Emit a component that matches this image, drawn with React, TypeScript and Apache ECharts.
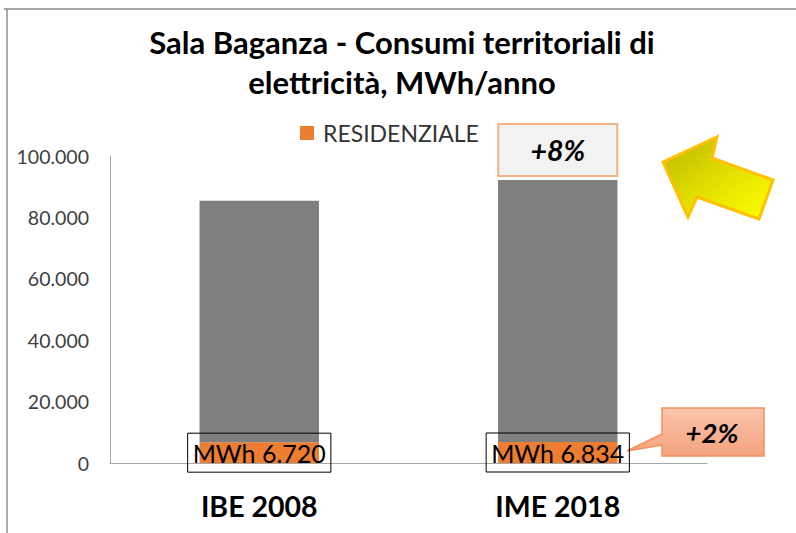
import React, { useEffect, useRef } from 'react';
import * as echarts from 'echarts';

const categories = ['IBE 2008', 'IME 2018'];
const residenziale = [6720, 6834];
const altriSettori = [78700, 85350];
const seriesNames = ['RESIDENZIALE', 'ALTRI SETTORI'];
const yMin = 0;
const yMax = 100000;
const yInterval = 20000;
const titleText = 'Sala Baganza - Consumi territoriali di\nelettricità, MWh/anno';

const fmt = (v: number) => String(Math.round(v)).replace(/\B(?=(\d{3})+(?!\d))/g, '.');

const FONT = 'Lato, "Open Sans", sans-serif';

export default function App() {
  const ref = useRef<HTMLDivElement>(null);

  useEffect(() => {
    if (!ref.current) return;
    const chart = echarts.init(ref.current, undefined, { renderer: 'svg' });

    const tot = residenziale.map((v, i) => v + altriSettori[i]);
    const pctTot = Math.round((tot[1] / tot[0] - 1) * 100);
    const pctRes = Math.round((residenziale[1] / residenziale[0] - 1) * 100);

    const option: any = {
      animation: false,
      backgroundColor: '#ffffff',
      legend: {
        data: [seriesNames[0]],
        left: 300,
        top: 121,
        padding: 0,
        itemWidth: 14,
        itemHeight: 14,
        icon: 'rect',
        textStyle: {
          fontFamily: FONT,
          fontSize: 23,
          lineHeight: 24,
          color: '#333333',
          padding: [0, 0, 0, 4],
        },
      },
      grid: { left: 110, right: 89, top: 156, bottom: 70, containLabel: false },
      xAxis: {
        type: 'category',
        data: categories,
        axisLine: { show: true, lineStyle: { color: '#a6a6a6', width: 1 } },
        axisTick: { show: false },
        axisLabel: {
          fontFamily: FONT,
          fontWeight: 'bold',
          fontSize: 28.5,
          color: '#000000',
          margin: 28,
        },
      },
      yAxis: {
        type: 'value',
        min: yMin,
        max: yMax,
        interval: yInterval,
        axisLine: { show: true, lineStyle: { color: '#a6a6a6', width: 1 } },
        axisTick: { show: false },
        splitLine: { show: false },
        axisLabel: {
          fontFamily: FONT,
          fontSize: 19.5,
          color: '#404040',
          margin: 21,
          formatter: (v: number) => fmt(v),
        },
      },
      series: [
        {
          name: seriesNames[0],
          type: 'bar',
          stack: 'tot',
          barWidth: '40%',
          data: residenziale,
          itemStyle: { color: '#ed7d31' },
          label: {
            show: true,
            position: 'inside',
            formatter: (p: any) => 'MWh ' + fmt(p.value),
            fontFamily: FONT,
            fontSize: 25,
            lineHeight: 25,
            color: '#000000',
            borderColor: '#000000',
            borderWidth: 1,
            padding: [7, 5, 7, 5],
          },
        },
        {
          name: seriesNames[1],
          type: 'bar',
          stack: 'tot',
          barWidth: '40%',
          data: altriSettori.map((v, i) =>
            i === 1
              ? {
                  value: v,
                  label: {
                    show: true,
                    position: 'top',
                    distance: 5,
                    formatter: () => '+' + pctTot + '%',
                    fontFamily: FONT,
                    fontSize: 28.5,
                    fontWeight: 'bold',
                    fontStyle: 'italic',
                    color: '#000000',
                    backgroundColor: '#f2f2f2',
                    borderColor: '#f4b183',
                    borderWidth: 2,
                    width: 117,
                    height: 50,
                    align: 'center',
                    lineHeight: 50,
                    padding: 0,
                  },
                }
              : v
          ),
          itemStyle: { color: '#7f7f7f' },
        },
      ],
      graphic: [
        {
          type: 'line',
          shape: { x1: 4, y1: 9, x2: 796, y2: 9 },
          style: { stroke: '#8c8c8c', lineWidth: 1.5 },
        },
        {
          type: 'line',
          shape: { x1: 7, y1: 9, x2: 7, y2: 533 },
          style: { stroke: '#8c8c8c', lineWidth: 1.5 },
        },
        {
          type: 'text',
          x: 402,
          y: 22,
          style: {
            text: titleText,
            textAlign: 'center',
            textVerticalAlign: 'top',
            fontFamily: FONT,
            fontWeight: 'bold',
            fontSize: 31,
            lineHeight: 40,
            fill: '#000000',
          },
        },
        {
          type: 'polygon',
          shape: {
            points: [
              [663, 162],
              [717, 137],
              [712, 158],
              [773, 180],
              [759, 219],
              [697, 197],
              [688, 217],
            ],
          },
          style: {
            fill: new echarts.graphic.LinearGradient(0, 0, 1, 1, [
              { offset: 0, color: '#bdb500' },
              { offset: 0.6, color: '#e8e600' },
              { offset: 1, color: '#ffff00' },
            ]),
            stroke: '#ffc000',
            lineWidth: 3,
            lineJoin: 'miter',
          },
        },
        {
          type: 'polygon',
          shape: {
            points: [
              [662, 408],
              [764, 408],
              [764, 456],
              [662, 456],
              [662, 445],
              [627, 451],
              [662, 434],
            ],
          },
          style: {
            fill: new echarts.graphic.LinearGradient(0, 0, 0, 1, [
              { offset: 0, color: '#f9c5ad' },
              { offset: 1, color: '#f4a27d' },
            ]),
            stroke: '#f4905a',
            lineWidth: 1.5,
          },
        },
        {
          type: 'text',
          x: 712,
          y: 432,
          style: {
            text: '+' + pctRes + '%',
            textAlign: 'center',
            textVerticalAlign: 'middle',
            fontFamily: FONT,
            fontWeight: 'bold',
            fontStyle: 'italic',
            fontSize: 27.5,
            fill: '#000000',
          },
        },
      ],
    };

    chart.setOption(option);
    return () => chart.dispose();
  }, []);

  return (
    <div
      ref={ref}
      style={{ position: 'absolute', left: 0, top: 0, width: 796, height: 533, background: '#fff' }}
    />
  );
}
